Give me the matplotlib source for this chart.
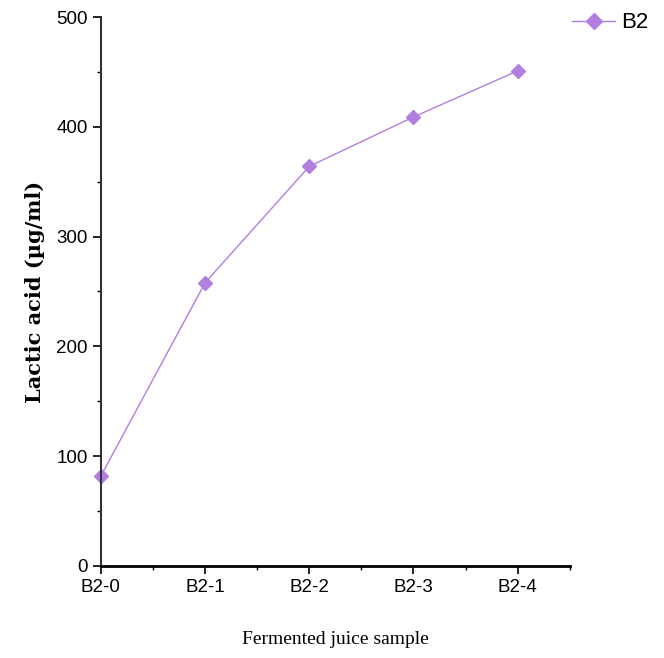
import matplotlib.pyplot as plt
from matplotlib.ticker import MultipleLocator

# Données
samples = ['B2-0', 'B2-1', 'B2-2', 'B2-3', 'B2-4']
lactic = [82, 258, 364, 409, 451]

fig = plt.figure(figsize=(6.64, 6.58), dpi=100)
ax = fig.add_axes([0.152, 0.140, 0.706, 0.834])

x = list(range(len(samples)))
ax.plot(x, lactic, color='#b27fe0', linewidth=1, marker='D', markersize=7,
        markerfacecolor='#b27fe0', markeredgecolor='#b27fe0', label='B2', clip_on=False)

ax.set_xlim(0, 4.5)
ax.set_ylim(0, 500)
ax.set_xticks(x)
ax.set_xticklabels(samples)
ax.xaxis.set_minor_locator(MultipleLocator(0.5))
ax.yaxis.set_major_locator(MultipleLocator(100))
ax.yaxis.set_minor_locator(MultipleLocator(50))

for side in ['top', 'right']:
    ax.spines[side].set_visible(False)
ax.spines['bottom'].set_linewidth(2)
ax.spines['left'].set_linewidth(1.5)
ax.spines['left'].set_color('#333333')

ax.tick_params(axis='both', which='major', direction='out', length=6, width=1.2,
               labelsize=13.5)
ax.tick_params(axis='both', which='minor', direction='out', length=3, width=1)
for lab in ax.get_xticklabels() + ax.get_yticklabels():
    lab.set_fontfamily('Liberation Sans')

ax.set_xlabel('Fermented juice sample', fontsize=14, family='Liberation Serif', labelpad=25)
ax.set_ylabel('Lactic acid (µg/ml)', fontsize=15, family='DejaVu Serif',
              fontweight='bold', labelpad=8)

leg = ax.legend(loc='upper left', bbox_to_anchor=(0.962, 1.045), frameon=False,
                prop={'family': 'Liberation Sans', 'size': 16}, handlelength=1.95,
                handletextpad=0.25, markerscale=1.1)

fig.savefig('out.png', dpi=100)
